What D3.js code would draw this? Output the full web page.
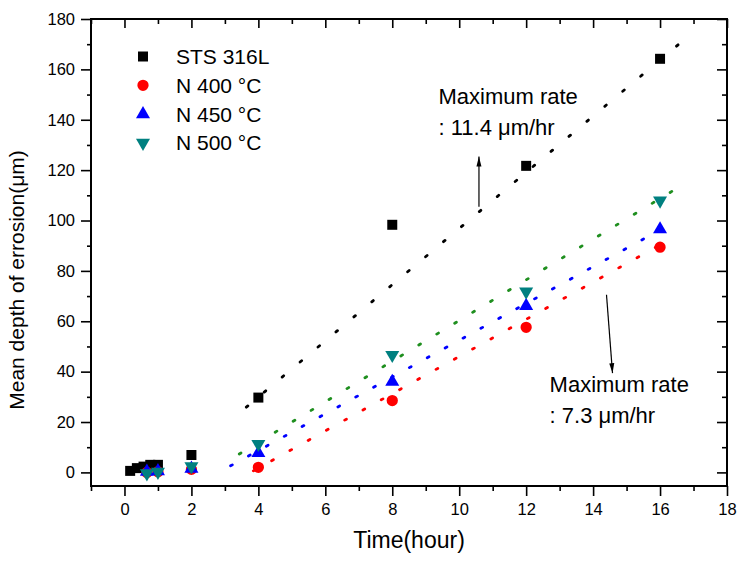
<!DOCTYPE html>
<html><head><meta charset="utf-8">
<script src="https://cdn.jsdelivr.net/npm/d3@7"></script>
<style>body{margin:0;background:#fff}svg{display:block}text{font-family:"Liberation Sans",Arial,sans-serif;fill:#000}</style>
</head><body><svg id="c" width="751" height="566"></svg>
<script>
// ---- data ----
const seriesNames = ["STS 316L", "N 400 \u00B0C", "N 450 \u00B0C", "N 500 \u00B0C"];
const seriesColors = ["#000000", "#ff0000", "#0000ff", "#008080"];
const fitColors = ["#000000", "#ff0000", "#0000ff", "#1f8f1f"];
const stsTimes = [0.17, 0.37, 0.57, 0.77, 1.0, 2, 4, 8, 12, 16];
const stsDepth = [0.6, 1.7, 2.3, 3.0, 3.0, 6.9, 29.7, 98.3, 121.7, 164.2];
const nTimes = [0.67, 1, 2, 4, 8, 12, 16];
const n400Depth = [0.0, 0.3, 1.2, 2.0, 28.5, 57.6, 89.4];
const n450Depth = [0.3, 0.5, 1.5, 7.7, 36.0, 66.1, 96.5];
const n500Depth = [-0.4, 0.2, 2.4, 11.3, 46.6, 71.8, 107.9];
// fitted (dotted) lines: [start, end] as [time, depth]
const fitSTS = [[3.64, 25.9], [16.57, 170.1]];
const fit400 = [[3.85, 0.6], [16.27, 92.3]];
const fit450 = [[3.17, 2.6], [16.1, 97.0]];
const fit500 = [[3.43, 7.3], [16.42, 112.1]];
const xTicks = [0, 2, 4, 6, 8, 10, 12, 14, 16, 18];
const yTicks = [0, 20, 40, 60, 80, 100, 120, 140, 160, 180];
const annotations = [
  {lines: ["Maximum rate", ": 11.4 \u03BCm/hr"], at: [9.38, 146.3], arrow: [[10.59, 105.5], [10.59, 125.4]]},
  {lines: ["Maximum rate", ": 7.3 \u03BCm/hr"], at: [12.7, 32.0], arrow: [[14.40, 70.5], [14.58, 39.4]]}
];

// ---- layout ----
const svg = d3.select("#c");
const L = 91, R = 727, T = 19, B = 486;
const x = d3.scaleLinear().domain([-1, 18]).range([L, R]);
const y = d3.scaleLinear().domain([-5.4, 180]).range([B, T]);

// dotted fit lines
const fits = [fitSTS, fit400, fit450, fit500];
const gaps = [21.4, 18.9, 18.4, 19];
const line = d3.line().x(d => x(d[0])).y(d => y(d[1]));
fits.forEach((f, i) => {
  svg.append("path").attr("d", line(f)).attr("fill", "none")
    .attr("stroke", fitColors[i]).attr("stroke-width", 2.8)
    .attr("stroke-linecap", "round").attr("stroke-dasharray", "2," + gaps[i]);
});

// axes
function axisStyle(g) {
  g.select(".domain").remove();
  g.selectAll("line").attr("stroke", "#000").attr("stroke-width", 1.6);
  g.selectAll("text").style("font-size", "16.5px").style("font-family", '"Liberation Sans",Arial,sans-serif');
}
const xMinor = d3.range(-1, 19, 1).filter(v => v % 2 !== 0);
const yMinor = d3.range(0, 181, 10).filter(v => v % 20 !== 0);
svg.append("g").attr("transform", `translate(0,${B})`)
  .call(d3.axisBottom(x).tickValues(xTicks).tickSize(10).tickPadding(7).tickFormat(d3.format("d"))).call(axisStyle);
svg.append("g").attr("transform", `translate(0,${B})`)
  .call(d3.axisBottom(x).tickValues(xMinor).tickSize(5).tickFormat("")).call(axisStyle);
svg.append("g").attr("transform", `translate(0,${T})`)
  .call(d3.axisBottom(x).tickValues(xTicks).tickSize(9).tickFormat("")).call(axisStyle);
svg.append("g").attr("transform", `translate(0,${T})`)
  .call(d3.axisBottom(x).tickValues(xMinor).tickSize(5).tickFormat("")).call(axisStyle);
svg.append("g").attr("transform", `translate(${L},0)`)
  .call(d3.axisLeft(y).tickValues(yTicks).tickSize(10).tickPadding(6).tickFormat(d3.format("d"))).call(axisStyle);
svg.append("g").attr("transform", `translate(${L},0)`)
  .call(d3.axisLeft(y).tickValues(yMinor).tickSize(4).tickFormat("")).call(axisStyle);
svg.append("g").attr("transform", `translate(${R},0)`)
  .call(d3.axisLeft(y).tickValues(yTicks).tickSize(10).tickFormat("")).call(axisStyle);
svg.append("g").attr("transform", `translate(${R},0)`)
  .call(d3.axisLeft(y).tickValues(yMinor).tickSize(5).tickFormat("")).call(axisStyle);
svg.append("rect").attr("x", L).attr("y", T).attr("width", R - L).attr("height", B - T)
  .attr("fill", "none").attr("stroke", "#000").attr("stroke-width", 2);

// markers
const symbols = [
  d3.symbol().type(d3.symbolSquare).size(100),
  d3.symbol().type(d3.symbolCircle).size(100),
  d3.symbol().type(d3.symbolTriangle).size(85),
  d3.symbol().type(d3.symbolTriangle).size(85)
];
const rot = [0, 0, 0, 180];
const datasets = [
  stsTimes.map((t, i) => [t, stsDepth[i]]),
  nTimes.map((t, i) => [t, n400Depth[i]]),
  nTimes.map((t, i) => [t, n450Depth[i]]),
  nTimes.map((t, i) => [t, n500Depth[i]])
];
datasets.forEach((ds, i) => {
  svg.append("g").selectAll("path").data(ds).join("path")
    .attr("d", symbols[i]())
    .attr("transform", d => `translate(${x(d[0])},${y(d[1])}) rotate(${rot[i]})`)
    .attr("fill", seriesColors[i]);
});

// legend
const legend = svg.append("g").attr("transform", "translate(143,56.5)");
seriesNames.forEach((n, i) => {
  const g = legend.append("g").attr("transform", `translate(0,${i * 28.8})`);
  g.append("path").attr("d", symbols[i]()).attr("transform", `rotate(${rot[i]})`).attr("fill", seriesColors[i]);
  g.append("text").attr("x", 33).attr("y", 7.5).style("font-size", "21px").text(n);
});

// annotations
svg.append("defs").append("marker").attr("id", "ah").attr("viewBox", "0 0 10 10")
  .attr("refX", 10).attr("refY", 5).attr("markerWidth", 10).attr("markerHeight", 10)
  .attr("markerUnits", "userSpaceOnUse").attr("orient", "auto")
  .append("path").attr("d", "M0,2.5 L10,5 L0,7.5 Z").attr("fill", "#000");
annotations.forEach(a => {
  a.lines.forEach((s, j) => {
    svg.append("text").attr("x", x(a.at[0])).attr("y", y(a.at[1]) + j * 31.5)
      .style("font-size", "22px").text(s);
  });
  svg.append("line").attr("x1", x(a.arrow[0][0])).attr("y1", y(a.arrow[0][1]))
    .attr("x2", x(a.arrow[1][0])).attr("y2", y(a.arrow[1][1]))
    .attr("stroke", "#000").attr("stroke-width", 1.2).attr("marker-end", "url(#ah)");
});

// axis titles
svg.append("text").attr("x", (L + R) / 2).attr("y", 548).attr("text-anchor", "middle")
  .style("font-size", "23px").text("Time(hour)");
svg.append("text").attr("transform", "translate(24,280) rotate(-90)").attr("text-anchor", "middle")
  .style("font-size", "21px").text("Mean depth of errosion(\u03BCm)");
</script></body></html>
